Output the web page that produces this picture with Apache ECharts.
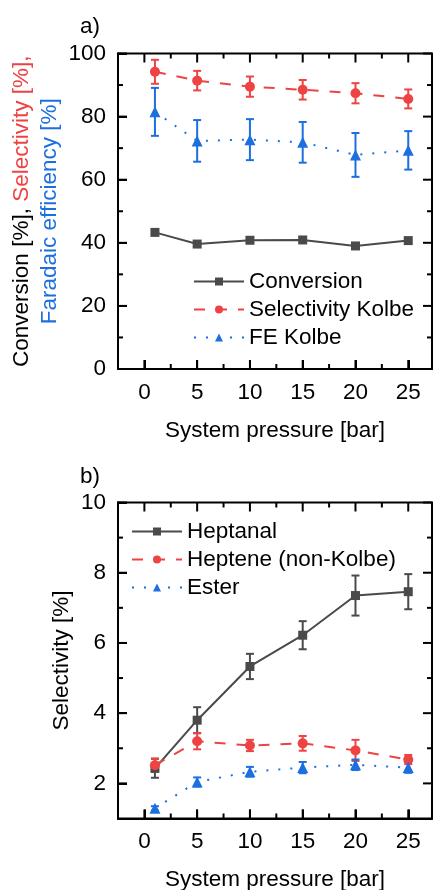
<!DOCTYPE html>
<html>
<head>
<meta charset="utf-8">
<script src="https://cdn.jsdelivr.net/npm/echarts@6/dist/echarts.min.js"></script>
<style>
  html, body { margin: 0; padding: 0; background: #fff; }
  .panel { width: 434px; height: 445px; }
</style>
</head>
<body>
<div id="panelA" class="panel"></div>
<div id="panelB" class="panel"></div>
<script>
// data
const pressure = [1, 5, 10, 15, 20, 25];

const conversion = [43.3, 39.6, 40.8, 40.9, 39.0, 40.7];
const selKolbe = [94.2, 91.4, 89.5, 88.5, 87.4, 85.6];
const selKolbeErr = [3.8, 3.1, 3.2, 3.1, 3.2, 3.0];
const feKolbe = [81.5, 72.3, 72.7, 71.85, 67.85, 69.3];
const feKolbeErr = [7.6, 6.6, 6.5, 6.45, 6.95, 6.1];

const heptanal = [2.43, 3.80, 5.33, 6.22, 7.35, 7.46];
const heptanalErr = [0.27, 0.37, 0.36, 0.40, 0.57, 0.50];
const heptene = [2.52, 3.20, 3.08, 3.14, 2.94, 2.68];
const hepteneErr = [0.19, 0.23, 0.16, 0.21, 0.30, 0.13];
const ester = [1.29, 2.04, 2.33, 2.45, 2.53, 2.45];
const esterErr = [0.06, 0.13, 0.14, 0.16, 0.15, 0.15];

// tick positions
const xMajor = [0, 5, 10, 15, 20, 25];
const xMinor = [2.5, 7.5, 12.5, 17.5, 22.5];
const yMajorA = [0, 20, 40, 60, 80, 100];
const yMinorA = [10, 30, 50, 70, 90];
const yMajorB = [2, 4, 6, 8, 10];
const yMinorB = [3, 5, 7, 9];

const X_RANGE = [-2.5, 27.25];
const Y_RANGE_A = [0, 100];
const Y_RANGE_B = [1, 10];

const FONT = "Liberation Sans";
const FS = 22.5;
const GRAY = "#4a4a4a";
const RED = "#ee4343";
const BLUE = "#1c6fdf";

function lineSeries(name, vals, color, symbol, size, type) {
  return {
    name: name, type: "line",
    data: pressure.map((p, i) => [p, vals[i]]),
    symbol: symbol, symbolSize: size,
    itemStyle: { color: color },
    lineStyle: { color: color, width: 2, type: type },
    z: 4,
  };
}

function errorSeries(vals, errs, color) {
  return {
    type: "custom", silent: true, z: 3,
    data: pressure.map((p, i) => [p, vals[i] - errs[i], vals[i] + errs[i]]),
    encode: { x: 0, y: [1, 2] },
    renderItem: (params, api) => {
      const lo = api.coord([api.value(0), api.value(1)]);
      const hi = api.coord([api.value(0), api.value(2)]);
      const hw = 4;
      const style = { stroke: color, lineWidth: 2, fill: null };
      return {
        type: "group",
        children: [
          { type: "line", shape: { x1: lo[0], y1: lo[1], x2: hi[0], y2: hi[1] }, style },
          { type: "line", shape: { x1: lo[0] - hw, y1: lo[1], x2: lo[0] + hw, y2: lo[1] }, style },
          { type: "line", shape: { x1: hi[0] - hw, y1: hi[1], x2: hi[0] + hw, y2: hi[1] }, style },
        ],
      };
    },
  };
}

// inside ticks on all four sides, placed through the axes' own scales
function tickSeries(xr, yr, yMaj, yMin) {
  const data = [
    ...xMajor.map((v) => [0, v, 9]), ...xMinor.map((v) => [0, v, 5]),
    ...yMaj.map((v) => [1, v, 9]), ...yMin.map((v) => [1, v, 5]),
  ];
  return {
    type: "custom", silent: true, z: 5, data: data,
    renderItem: (params, api) => {
      const kind = api.value(0), v = api.value(1), len = api.value(2);
      const style = { stroke: "#000", lineWidth: 2 };
      let segs;
      if (kind === 0) {
        const a = api.coord([v, yr[0]]), b = api.coord([v, yr[1]]);
        segs = [[a[0], a[1], a[0], a[1] - len], [b[0], b[1], b[0], b[1] + len]];
      } else {
        const a = api.coord([xr[0], v]), b = api.coord([xr[1], v]);
        segs = [[a[0], a[1], a[0] + len, a[1]], [b[0], b[1], b[0] - len, b[1]]];
      }
      return {
        type: "group",
        children: segs.map((s) => ({ type: "line", shape: { x1: s[0], y1: s[1], x2: s[2], y2: s[3] }, style })),
      };
    },
  };
}

const labelStyle = { color: "#000", fontSize: FS, fontFamily: FONT, margin: 12 };

function xAxisFor() {
  return {
    type: "value", position: "bottom", min: X_RANGE[0], max: X_RANGE[1],
    axisLine: { show: true, onZero: false, lineStyle: { color: "#000", width: 2 } },
    axisTick: { show: true, inside: true, length: 9, customValues: xMajor, lineStyle: { color: "#000", width: 2 } },
    axisLabel: Object.assign({ customValues: xMajor }, labelStyle),
    splitLine: { show: false },
    name: "System pressure [bar]", nameLocation: "middle", nameGap: 50,
    nameTextStyle: { color: "#000", fontSize: FS, fontFamily: FONT },
  };
}

function yAxisFor(range, labels, name, gap, nameStyle) {
  return {
    type: "value", position: "left", min: range[0], max: range[1],
    axisLine: { show: true, onZero: false, lineStyle: { color: "#000", width: 2 } },
    axisTick: { show: true, inside: true, length: 9, customValues: labels, lineStyle: { color: "#000", width: 2 } },
    axisLabel: Object.assign({ customValues: labels }, labelStyle),
    splitLine: { show: false },
    name: name, nameLocation: "middle", nameGap: gap, nameTextStyle: nameStyle,
    nameMoveOverlap: false,
  };
}

const gridBox = { show: true, borderColor: "#000", borderWidth: 2, backgroundColor: "transparent", outerBoundsMode: "none" };

const legendBase = {
  orient: "vertical", itemWidth: 50, itemHeight: 10, itemGap: 5,
  textStyle: { color: "#000", fontSize: FS, fontFamily: FONT, lineHeight: 22 },
};

// ---------- a) ----------
const chartA = echarts.init(document.getElementById("panelA"));
chartA.setOption({
  animation: false,
  grid: Object.assign({ left: 118, top: 53.5, width: 314, height: 315.5 }, gridBox),
  xAxis: xAxisFor(),
  yAxis: yAxisFor(Y_RANGE_A, yMajorA,
    "{k|Conversion [%], }{r|Selectivity [%],}\n{b|Faradaic efficiency [%]}", 54, {
      fontSize: FS, fontFamily: FONT, lineHeight: 28,
      rich: {
        k: { color: "#000", fontSize: FS, fontFamily: FONT, lineHeight: 28 },
        r: { color: RED, fontSize: FS, fontFamily: FONT, lineHeight: 28 },
        b: { color: BLUE, fontSize: FS, fontFamily: FONT, lineHeight: 28 },
      },
    }),
  legend: Object.assign({ left: 188, top: 265, data: ["Conversion", "Selectivity Kolbe", "FE Kolbe"] }, legendBase),
  graphic: [{ type: "text", left: 80, top: 15, style: { text: "a)", fontSize: FS, fontFamily: FONT, fill: "#000" } }],
  series: [
    tickSeries(X_RANGE, Y_RANGE_A, yMajorA, yMinorA),
    errorSeries(selKolbe, selKolbeErr, RED),
    errorSeries(feKolbe, feKolbeErr, BLUE),
    lineSeries("Conversion", conversion, GRAY, "rect", 9, "solid"),
    lineSeries("Selectivity Kolbe", selKolbe, RED, "circle", 10, [11, 11]),
    lineSeries("FE Kolbe", feKolbe, BLUE, "triangle", 11, [2, 10]),
  ],
});

// ---------- b) ----------
const chartB = echarts.init(document.getElementById("panelB"));
chartB.setOption({
  animation: false,
  grid: Object.assign({ left: 118, top: 57.5, width: 314, height: 316 }, gridBox),
  xAxis: xAxisFor(),
  yAxis: yAxisFor(Y_RANGE_B, yMajorB, "Selectivity [%]", 45,
    { color: "#000", fontSize: FS, fontFamily: FONT }),
  legend: Object.assign({ left: 126, top: 70, data: ["Heptanal", "Heptene (non-Kolbe)", "Ester"] }, legendBase),
  graphic: [{ type: "text", left: 80, top: 20, style: { text: "b)", fontSize: FS, fontFamily: FONT, fill: "#000" } }],
  series: [
    tickSeries(X_RANGE, Y_RANGE_B, yMajorB, yMinorB),
    errorSeries(heptanal, heptanalErr, GRAY),
    errorSeries(heptene, hepteneErr, RED),
    errorSeries(ester, esterErr, BLUE),
    lineSeries("Heptanal", heptanal, GRAY, "rect", 9, "solid"),
    lineSeries("Heptene (non-Kolbe)", heptene, RED, "circle", 10, [11, 11]),
    lineSeries("Ester", ester, BLUE, "triangle", 11, [2, 10]),
  ],
});
</script>
</body>
</html>
